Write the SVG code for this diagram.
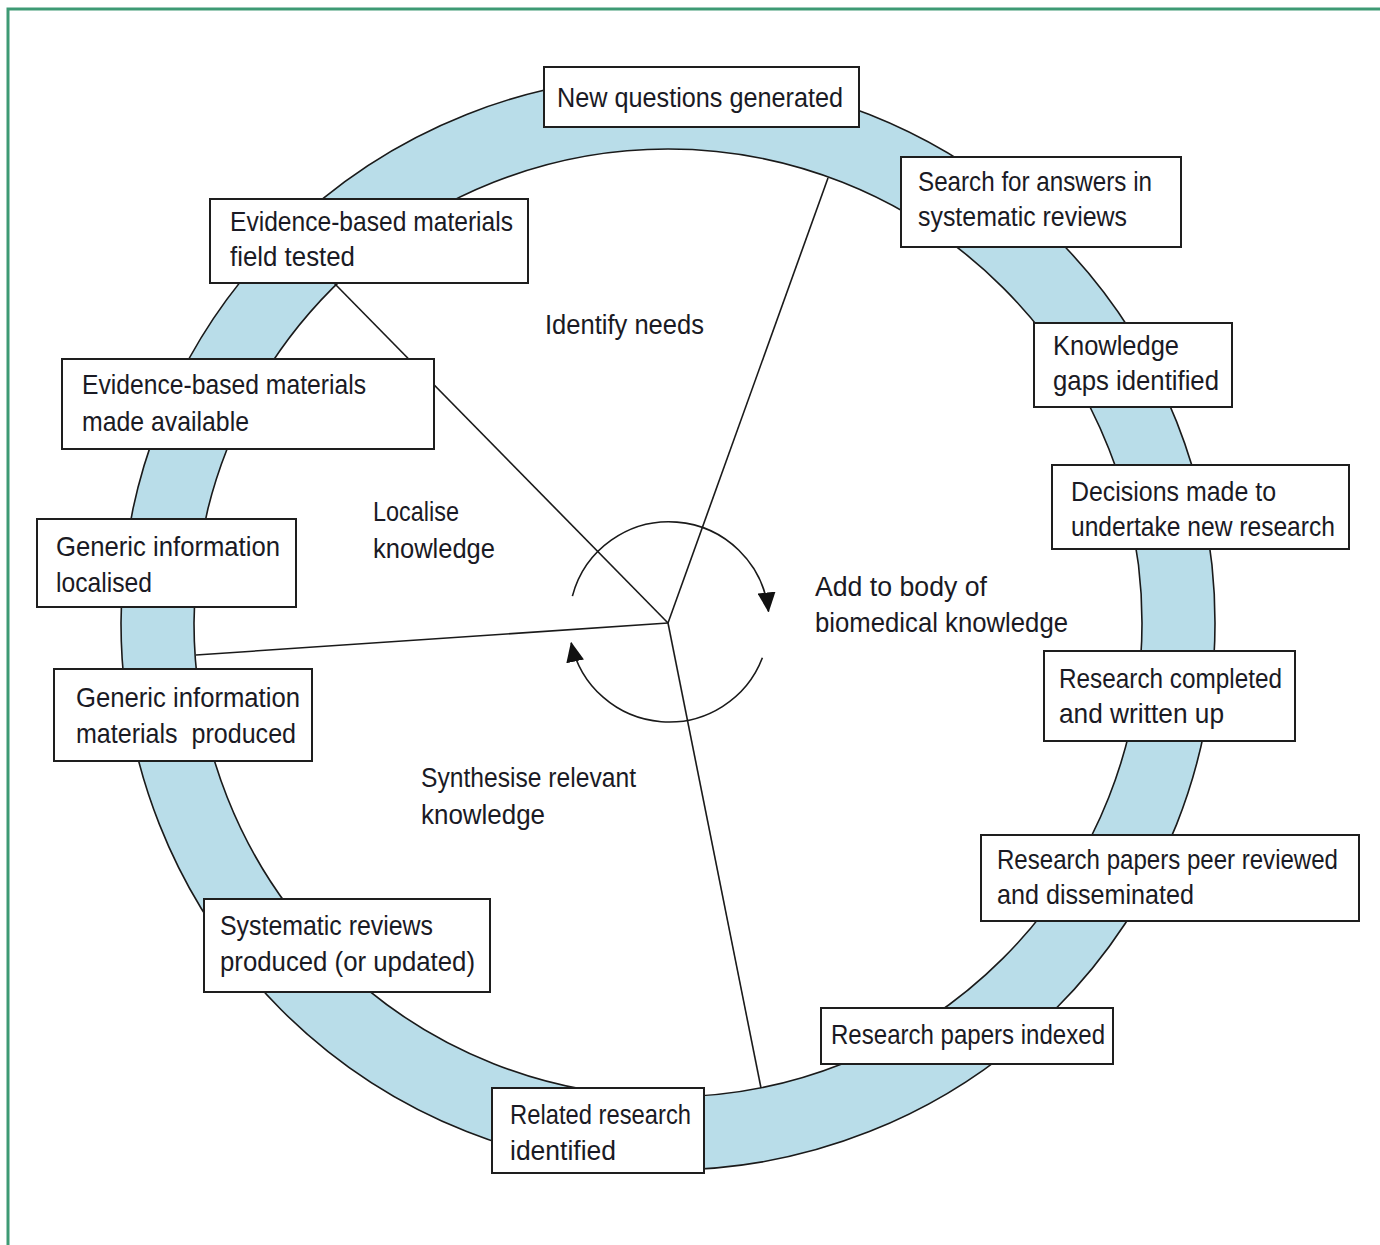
<svg xmlns="http://www.w3.org/2000/svg" width="1380" height="1245" viewBox="0 0 1380 1245">
<style>
.t{font-family:"Liberation Sans Narrow","Liberation Sans",Arial,sans-serif;font-size:27.5px;fill:#1a1a24}
.box{fill:#fff;stroke:#1e1e1e;stroke-width:2}
.spoke{fill:none;stroke:#1a1a1a;stroke-width:1.6}
.arc{fill:none;stroke:#1a1a1a;stroke-width:1.6}
</style>
<defs>
<marker id="ah" viewBox="0 0 20 18" refX="19" refY="9" markerWidth="20" markerHeight="18" markerUnits="userSpaceOnUse" orient="auto">
<path d="M0,0 L20,9 L0,18 z" fill="#111"/>
</marker>
</defs>
<rect width="1380" height="1245" fill="#fff"/>
<path d="M8,1245 V9 H1380" fill="none" stroke="#3e9a74" stroke-width="3"/>
<g id="ring">
<path d="M121,623 A547,547 0 1 0 1215,623 A547,547 0 1 0 121,623 Z M194,623 A474,474 0 1 1 1142,623 A474,474 0 1 1 194,623 Z" fill="#b9dde9" fill-rule="evenodd" stroke="#1a1a1a" stroke-width="1.6"/>
</g>
<g id="connectors">
<line class="spoke" x1="668" y1="623" x2="828" y2="178"/>
<line class="spoke" x1="668" y1="623" x2="334" y2="283"/>
<line class="spoke" x1="668" y1="623" x2="196" y2="655"/>
<line class="spoke" x1="668" y1="623" x2="761" y2="1088"/>
<path class="arc" d="M572.4,596.1 A100,100 0 0 1 768.5,611.5" marker-end="url(#ah)"/>
<path class="arc" d="M762.4,657.8 A100,100 0 0 1 571.2,642.8" marker-end="url(#ah)"/>
</g>
<g id="labels">
<text class="t" x="545" y="334" textLength="159" lengthAdjust="spacingAndGlyphs">Identify needs</text>
<text class="t" x="373" y="521" textLength="86" lengthAdjust="spacingAndGlyphs">Localise</text>
<text class="t" x="373" y="558" textLength="122" lengthAdjust="spacingAndGlyphs">knowledge</text>
<text class="t" x="815" y="596" textLength="172" lengthAdjust="spacingAndGlyphs">Add to body of</text>
<text class="t" x="815" y="632" textLength="253" lengthAdjust="spacingAndGlyphs">biomedical knowledge</text>
<text class="t" x="421" y="787" textLength="215" lengthAdjust="spacingAndGlyphs">Synthesise relevant</text>
<text class="t" x="421" y="824" textLength="124" lengthAdjust="spacingAndGlyphs">knowledge</text>
</g>
<g id="n1"><rect class="box" x="544" y="67" width="315" height="60"/>
<text class="t" x="557" y="107" textLength="286" lengthAdjust="spacingAndGlyphs">New questions generated</text></g>
<g id="n2"><rect class="box" x="901" y="157" width="280" height="90"/>
<text class="t" x="918" y="191" textLength="234" lengthAdjust="spacingAndGlyphs">Search for answers in</text>
<text class="t" x="918" y="226" textLength="209" lengthAdjust="spacingAndGlyphs">systematic reviews</text></g>
<g id="n3"><rect class="box" x="1034" y="323" width="198" height="84"/>
<text class="t" x="1053" y="355" textLength="126" lengthAdjust="spacingAndGlyphs">Knowledge</text>
<text class="t" x="1053" y="390" textLength="166" lengthAdjust="spacingAndGlyphs">gaps identified</text></g>
<g id="n4"><rect class="box" x="1052" y="465" width="297" height="84"/>
<text class="t" x="1071" y="501" textLength="205" lengthAdjust="spacingAndGlyphs">Decisions made to</text>
<text class="t" x="1071" y="536" textLength="264" lengthAdjust="spacingAndGlyphs">undertake new research</text></g>
<g id="n5"><rect class="box" x="1044" y="651" width="251" height="90"/>
<text class="t" x="1059" y="688" textLength="223" lengthAdjust="spacingAndGlyphs">Research completed</text>
<text class="t" x="1059" y="723" textLength="165" lengthAdjust="spacingAndGlyphs">and written up</text></g>
<g id="n6"><rect class="box" x="981" y="835" width="378" height="86"/>
<text class="t" x="997" y="869" textLength="341" lengthAdjust="spacingAndGlyphs">Research papers peer reviewed</text>
<text class="t" x="997" y="904" textLength="197" lengthAdjust="spacingAndGlyphs">and disseminated</text></g>
<g id="n7"><rect class="box" x="821" y="1008" width="292" height="56"/>
<text class="t" x="831" y="1044" textLength="274" lengthAdjust="spacingAndGlyphs">Research papers indexed</text></g>
<g id="n8"><rect class="box" x="492" y="1088" width="212" height="85"/>
<text class="t" x="510" y="1124" textLength="181" lengthAdjust="spacingAndGlyphs">Related research</text>
<text class="t" x="510" y="1160" textLength="106" lengthAdjust="spacingAndGlyphs">identified</text></g>
<g id="n9"><rect class="box" x="204" y="899" width="286" height="93"/>
<text class="t" x="220" y="935" textLength="213" lengthAdjust="spacingAndGlyphs">Systematic reviews</text>
<text class="t" x="220" y="971" textLength="255" lengthAdjust="spacingAndGlyphs">produced (or updated)</text></g>
<g id="n10"><rect class="box" x="54" y="669" width="258" height="92"/>
<text class="t" x="76" y="707" textLength="224" lengthAdjust="spacingAndGlyphs">Generic information</text>
<text class="t" x="76" y="743" textLength="220" lengthAdjust="spacingAndGlyphs" xml:space="preserve">materials  produced</text></g>
<g id="n11"><rect class="box" x="37" y="519" width="259" height="88"/>
<text class="t" x="56" y="556" textLength="224" lengthAdjust="spacingAndGlyphs">Generic information</text>
<text class="t" x="56" y="592" textLength="96" lengthAdjust="spacingAndGlyphs">localised</text></g>
<g id="n12"><rect class="box" x="62" y="359" width="372" height="90"/>
<text class="t" x="82" y="394" textLength="284" lengthAdjust="spacingAndGlyphs">Evidence-based materials</text>
<text class="t" x="82" y="431" textLength="167" lengthAdjust="spacingAndGlyphs">made available</text></g>
<g id="n13"><rect class="box" x="210" y="199" width="318" height="84"/>
<text class="t" x="230" y="231" textLength="283" lengthAdjust="spacingAndGlyphs">Evidence-based materials</text>
<text class="t" x="230" y="266" textLength="125" lengthAdjust="spacingAndGlyphs">field tested</text></g>
</svg>
